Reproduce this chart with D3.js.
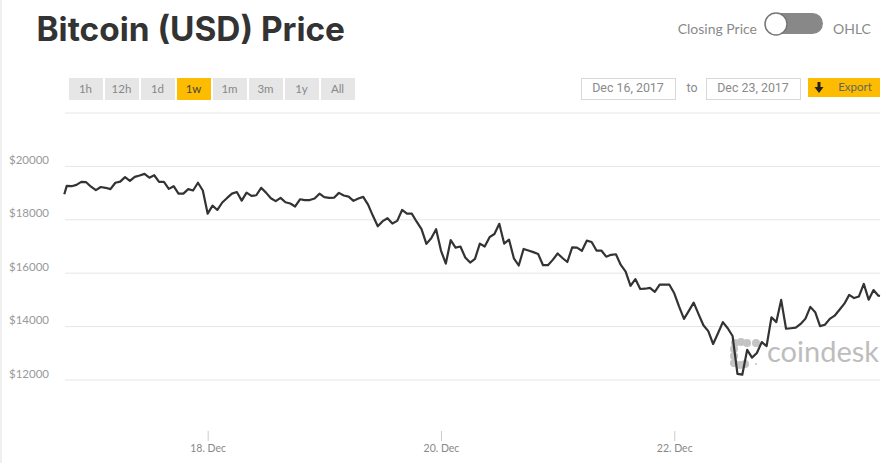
<!DOCTYPE html>
<html><head><meta charset="utf-8">
<script src="https://cdn.jsdelivr.net/npm/d3@7"></script>
<style>
html,body{margin:0;padding:0;background:#fff;overflow:hidden}
svg{display:block}
text{font-family:Lato,"Open Sans",sans-serif}
</style></head><body>
<svg id="c" width="886" height="463"></svg>
<script>
const title = "Bitcoin (USD) Price";
const rangeButtons = ["1h","12h","1d","1w","1m","3m","1y","All"];
const activeRange = "1w";
const dateFrom = "Dec 16, 2017";
const dateTo = "Dec 23, 2017";
const yGrid = [12000,14000,16000,18000,20000,22000];
const yLabelled = [12000,14000,16000,18000,20000];
const xTicks = [new Date(2017,11,18),new Date(2017,11,20),new Date(2017,11,22)];
const firstTime = new Date(2017,11,16,18,30);
const hourlyStart = new Date(2017,11,16,19,0);
const lastTime = new Date(2017,11,23,18,20);
const closes = [18940,
19250,19240,19290,19400,19390,19220,19090,19210,19180,19130,19370,19410,19580,19440,19590,19640,19700,19560,19650,
19400,19400,19140,19240,18960,18960,19130,19080,19370,19080,18210,18510,18350,18630,18800,18960,19020,18700,19000,18880,
18900,19180,19000,18790,18680,18800,18640,18590,18480,18750,18720,18720,18780,18960,18830,18800,18810,18990,18890,18850,
18690,18780,18840,18550,18130,17740,17930,18040,17840,17940,18350,18210,18210,17910,17630,17080,17290,17630,16830,16340,
17220,16940,16980,16570,16380,16520,17090,16980,17330,17450,17830,17090,17240,16540,16270,16890,16830,16770,16700,16280,
16280,16480,16720,16550,16400,16950,16940,16820,17200,17150,16830,16830,16600,16670,16690,16290,16040,15510,15760,15390,
15400,15430,15280,15550,15550,15550,15230,14730,14270,14570,14880,14450,14030,13810,13330,13730,14150,13920,13630,12210,
12180,13110,12820,12990,13400,13250,14330,14150,14980,13900,13920,13940,14080,14280,14720,14520,14000,14050,14270,14390,
14610,14840,15170,15050,15110,15580,14990,15350,15140,15130];

const times = closes.map((_, i) =>
  i === 0 ? firstTime : i === closes.length - 1 ? lastTime : d3.timeHour.offset(hourlyStart, i - 1));
const data = closes.map((v, i) => ({t: times[i], v}));

const svg = d3.select("#c");
const x = d3.scaleTime().domain([firstTime, lastTime]).range([64.3, 880]);
const y = d3.scaleLinear().domain([12000, 22000]).range([379.5, 112.5]);

// page edge
svg.append("rect").attr("x",0).attr("y",0).attr("width",2).attr("height",463).attr("fill","#efefef");

// title
svg.append("text").attr("x",36.5).attr("y",41).attr("font-size",33.4).attr("font-weight",700)
  .attr("fill","#333").style("font-family","Inter,sans-serif").text(title);

// toggle
svg.append("text").attr("x",757).attr("y",34).attr("text-anchor","end").attr("font-size",14).attr("fill","#8a8a8a").text("Closing Price");
svg.append("text").attr("x",833).attr("y",34).attr("font-size",14).attr("fill","#8a8a8a").text("OHLC");
svg.append("rect").attr("x",767).attr("y",13).attr("width",56).attr("height",21).attr("rx",10.5).attr("fill","#888");
svg.append("circle").attr("cx",776).attr("cy",24).attr("r",11).attr("fill","#fff").attr("stroke","#777").attr("stroke-width",1.5);

// range buttons
const bx = d3.scaleBand().domain(rangeButtons).range([69,357]).paddingInner(0.0);
const btn = svg.append("g").selectAll("g").data(rangeButtons).join("g")
  .attr("transform", d => `translate(${bx(d)},78)`);
btn.append("rect").attr("width",34).attr("height",22)
  .attr("fill", d => d === activeRange ? "#fdbc00" : "#e6e6e6");
btn.append("text").attr("x",16.5).attr("y",14.5).attr("text-anchor","middle").attr("font-size",11.5)
  .attr("fill", d => d === activeRange ? "#444" : "#888").text(d => d);

// date boxes
[[581,dateFrom],[706,dateTo]].forEach(([bxx,t]) => {
  svg.append("rect").attr("x",bxx+0.5).attr("y",78.5).attr("width",94).attr("height",21).attr("fill","#fff").attr("stroke","#d8d8d8");
  svg.append("text").attr("x",bxx+47).attr("y",92).attr("text-anchor","middle").attr("font-size",12.4).attr("fill","#8a8a8a")
    .style("font-family","Roboto,sans-serif").text(t);
});
svg.append("text").attr("x",692).attr("y",92).attr("text-anchor","middle").attr("font-size",12.4).attr("fill","#8a8a8a")
  .style("font-family","Roboto,sans-serif").text("to");

// export
svg.append("rect").attr("x",808).attr("y",78).attr("width",72).attr("height",19).attr("fill","#fdbc00");
svg.append("path").attr("d","M817.5 82h3v5h3l-4.5 6l-4.5-6h3z").attr("fill","#222");
svg.append("text").attr("x",855).attr("y",91).attr("text-anchor","middle").attr("font-size",11.5).attr("fill","#666").text("Export");

// y axis / grid
const yAxis = d3.axisLeft(y).tickValues(yGrid).tickSize(-815).tickPadding(16)
  .tickFormat(d => yLabelled.includes(d) ? "$" + d : "");
const gy = svg.append("g").attr("transform","translate(65,0)").call(yAxis);
gy.select(".domain").remove();
gy.selectAll("line").attr("stroke","#e6e6e6");
gy.selectAll("text").attr("font-size",11.5).attr("fill","#999").attr("dy","-2.5").attr("x",-16);

// x axis
const xAxis = d3.axisBottom(x).tickValues(xTicks).tickSize(10).tickPadding(4)
  .tickFormat(d3.timeFormat("%-d. %b"));
const gx = svg.append("g").attr("transform","translate(0,431)").call(xAxis);
gx.select(".domain").remove();
gx.selectAll("line").attr("stroke","#ccc");
gx.selectAll("text").attr("font-size",10.5).attr("fill","#888");

// watermark
const logoDots = [[735,343],[741,342],[747,343],[756,343],[734,349],[734,356],[734,363],[740,365],[745,364]];
svg.append("g").selectAll("circle").data(logoDots).join("circle")
  .attr("cx",d=>d[0]).attr("cy",d=>d[1]).attr("r",4).attr("fill","#c4c4c4");
svg.append("circle").attr("cx",756).attr("cy",364).attr("r",1).attr("fill","#c4c4c4");
svg.append("text").attr("x",767).attr("y",362).attr("font-size",29).attr("fill","#bdbdbd").text("coindesk");

// line
svg.append("path").datum(data).attr("fill","none").attr("stroke","#333").attr("stroke-width",2.2)
  .attr("stroke-linejoin","round")
  .attr("d", d3.line().x(d => x(d.t)).y(d => y(d.v)));
</script>
</body></html>
